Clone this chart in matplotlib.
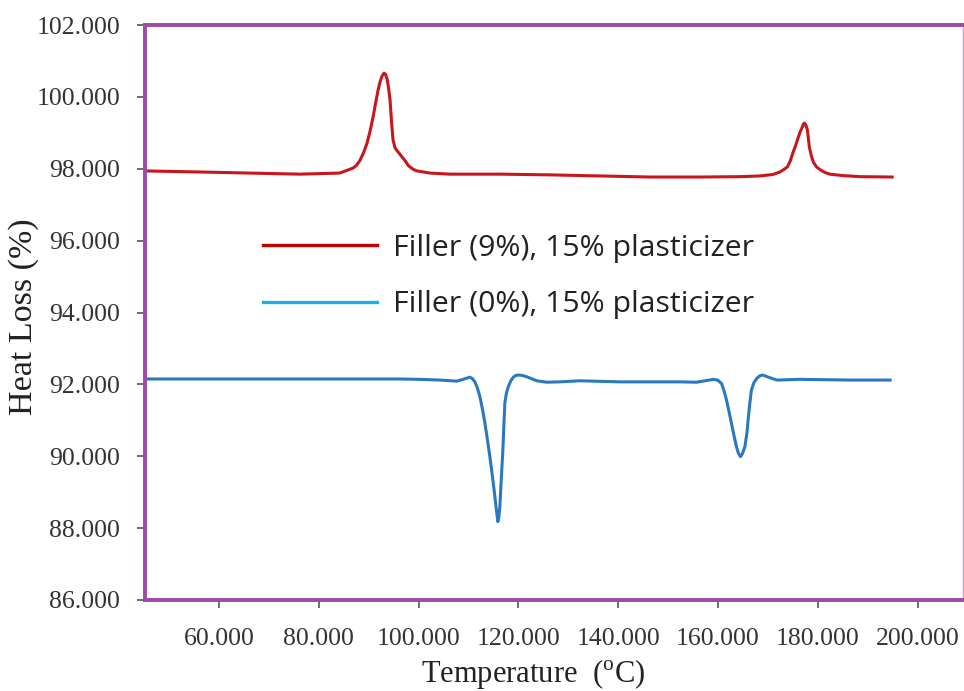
import matplotlib
matplotlib.use('Agg')
import matplotlib.pyplot as plt
from matplotlib.lines import Line2D

# Filler (9%), 15% plasticizer
temp_red = [45.2, 56.2, 66.2, 76.2, 84.2, 86.9, 87.6, 88.3, 89.0, 89.7, 90.3, 90.9,
            91.4, 91.9, 92.3, 92.7, 93.1, 93.4, 93.7, 94.0, 94.3, 94.6, 94.9, 95.3,
            95.9, 96.3, 96.7, 97.1, 97.5, 97.9, 98.3, 99.0, 99.7, 102.3, 106.3,
            116.3, 126.3, 136.4, 146.4, 156.4, 164.4, 168.4, 171.0, 172.4, 173.2,
            173.9, 174.5, 175.0, 175.6, 176.1, 176.5, 176.9, 177.1, 177.3, 177.6,
            177.9, 178.1, 178.3, 178.7, 179.1, 179.7, 180.5, 181.4, 182.4, 185.0,
            188.5, 194.9]
loss_red = [97.94, 97.91, 97.88, 97.85, 97.88, 98.02, 98.10, 98.24, 98.45, 98.72,
            99.05, 99.44, 99.82, 100.19, 100.42, 100.58, 100.66, 100.63, 100.50,
            100.25, 99.91, 99.30, 98.80, 98.58, 98.47, 98.40, 98.33, 98.26, 98.19,
            98.10, 98.05, 97.98, 97.94, 97.88, 97.85, 97.85, 97.83, 97.80, 97.77,
            97.77, 97.78, 97.80, 97.84, 97.91, 97.98, 98.05, 98.22, 98.44, 98.66,
            98.88, 99.04, 99.16, 99.24, 99.27, 99.22, 99.09, 98.86, 98.61, 98.36,
            98.19, 98.06, 97.97, 97.90, 97.85, 97.81, 97.78, 97.77]

# Filler (0%), 15% plasticizer
temp_blue = [45.2, 76.2, 96.3, 100.3, 104.3, 107.7, 108.9, 110.3, 110.8, 111.3,
             111.8, 112.3, 112.8, 113.3, 113.8, 114.3, 114.8, 115.3, 115.6, 115.9,
             116.1, 116.3, 116.6, 116.9, 117.1, 117.3, 117.6, 118.0, 118.5, 119.0,
             119.5, 120.0, 120.8, 121.7, 123.7, 125.7, 128.3, 132.3, 140.4, 148.4,
             152.4, 155.7, 159.1, 159.9, 160.7, 161.2, 161.7, 162.2, 162.7, 163.2,
             163.7, 164.1, 164.5, 164.9, 165.4, 165.8, 166.1, 166.4, 166.7, 167.2,
             167.8, 168.3, 168.8, 169.4, 170.1, 171.8, 176.4, 186.5, 194.5]
loss_blue = [92.15, 92.15, 92.15, 92.14, 92.12, 92.09, 92.14, 92.20, 92.16, 92.07,
             91.90, 91.66, 91.32, 90.93, 90.47, 89.99, 89.45, 88.88, 88.50, 88.18,
             88.30, 88.60, 89.40, 90.17, 90.85, 91.48, 91.75, 91.94, 92.10, 92.20,
             92.25, 92.26, 92.25, 92.21, 92.10, 92.06, 92.07, 92.10, 92.07, 92.07,
             92.07, 92.06, 92.14, 92.12, 92.03, 91.83, 91.57, 91.25, 90.92, 90.58,
             90.27, 90.08, 89.99, 90.07, 90.27, 90.65, 91.10, 91.50, 91.84, 92.05,
             92.17, 92.23, 92.26, 92.24, 92.20, 92.12, 92.14, 92.12, 92.12]

labels = ['Filler (9%), 15% plasticizer', 'Filler (0%), 15% plasticizer']
x_ticks = [60, 80, 100, 120, 140, 160, 180, 200]
y_ticks = [86, 88, 90, 92, 94, 96, 98, 100, 102]

plt.rcParams['mathtext.fontset'] = 'custom'
plt.rcParams['mathtext.rm'] = 'Liberation Serif'

fig = plt.figure(figsize=(9.64, 6.91), dpi=100)
ax = fig.add_axes([0.1504, 0.1317, 0.8486, 0.8321])

ax.plot(temp_red, loss_red, color='#C8161D', lw=2.2, solid_joinstyle='round')
ax.plot(temp_blue, loss_blue, color='#2A78C2', lw=2.2, solid_joinstyle='round')

ax.set_xlim(45.2, 209.1)
ax.set_ylim(86, 102)
ax.set_xticks(x_ticks)
ax.set_yticks(y_ticks)
ax.set_xticklabels(['%.3f' % v for v in x_ticks])
ax.set_yticklabels(['%.3f' % v for v in y_ticks])

for lab in ax.get_xticklabels() + ax.get_yticklabels():
    lab.set_family('Liberation Serif')
    lab.set_fontsize(18.5)
    lab.set_color('#333333')
ax.tick_params(axis='both', direction='out', length=6, width=1.2, color='#555555')
ax.tick_params(axis='y', pad=12)
ax.tick_params(axis='x', pad=14)

purple = '#9E4AA8'
for side in ['left', 'top', 'bottom']:
    ax.spines[side].set_color(purple)
    ax.spines[side].set_linewidth(2.8)
ax.spines['right'].set_color('#C9A3D0')
ax.spines['right'].set_linewidth(1.0)

ax.set_ylabel('Heat Loss (%)', family='Liberation Serif', fontsize=24.5, color='#222222')
ax.yaxis.set_label_coords(-0.13, 0.492)
ax.set_xlabel(r'Temperature  ($^{\mathrm{o}}$C)', family='Liberation Serif',
              fontsize=22, color='#222222')
ax.xaxis.set_label_coords(0.474, -0.100)

handles = [Line2D([], [], color='#C00000', lw=2.4),
           Line2D([], [], color='#1AAFEA', lw=2.4)]
leg = ax.legend(handles, labels, loc='center left', bbox_to_anchor=(0.144, 0.5625),
                frameon=False, borderpad=0, borderaxespad=0, handlelength=3.78,
                handletextpad=0.51, labelspacing=0.9,
                prop={'family': 'Open Sans', 'size': 21.8})
for t in leg.get_texts():
    t.set_color('#222222')

fig.savefig('out.png', dpi=100)
